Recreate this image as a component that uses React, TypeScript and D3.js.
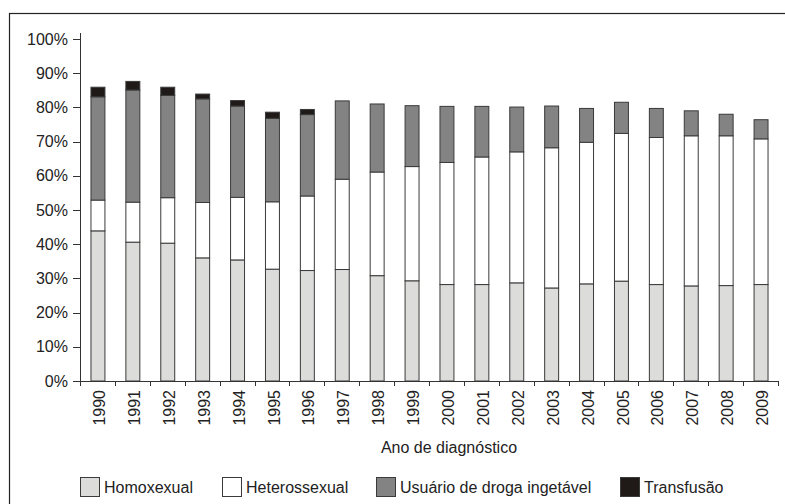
import React from 'react';
import * as d3 from 'd3';

// Anos de diagnóstico
const years = [
  '1990', '1991', '1992', '1993', '1994', '1995', '1996', '1997', '1998', '1999',
  '2000', '2001', '2002', '2003', '2004', '2005', '2006', '2007', '2008', '2009',
];

// Share of cases per exposure category (%)
const homoxexual = [43.9, 40.6, 40.3, 36.0, 35.4, 32.7, 32.3, 32.6, 30.8, 29.3, 28.2, 28.2, 28.7, 27.2, 28.4, 29.2, 28.2, 27.8, 27.9, 28.2];
const heterossexual = [9.0, 11.7, 13.3, 16.2, 18.3, 19.7, 21.8, 26.4, 30.3, 33.4, 35.7, 37.3, 38.3, 41.0, 41.4, 43.2, 43.0, 43.9, 43.8, 42.6];
const usuarioDroga = [30.2, 32.8, 29.9, 30.3, 26.7, 24.4, 23.8, 22.9, 19.9, 17.8, 16.4, 14.8, 13.1, 12.2, 9.9, 9.1, 8.5, 7.3, 6.3, 5.6];
const transfusao = [2.8, 2.5, 2.4, 1.4, 1.6, 1.8, 1.5, 0, 0, 0, 0, 0, 0, 0, 0, 0, 0, 0, 0, 0];

const yTicks = [0, 10, 20, 30, 40, 50, 60, 70, 80, 90, 100];

const seriesKeys = ['Homoxexual', 'Heterossexual', 'Usuário de droga ingetável', 'Transfusão'];
const colors = ['#dcdcda', '#ffffff', '#838383', '#1f1a17'];

const width = 785;
const height = 504;
const font = '"Liberation Sans", Arial, sans-serif';

const App = () => {
  // build table for d3.stack
  const table = years.map((y, i) => ({
    year: y,
    [seriesKeys[0]]: homoxexual[i],
    [seriesKeys[1]]: heterossexual[i],
    [seriesKeys[2]]: usuarioDroga[i],
    [seriesKeys[3]]: transfusao[i],
  }));
  const stacked = d3.stack<any>().keys(seriesKeys)(table);

  const x = d3.scaleBand().domain(years).range([80, 778]).paddingInner(0.6).paddingOuter(0.3);
  const y = d3.scaleLinear().domain([0, 100]).range([381, 39]);
  const step = x.step();

  // x tick positions sit between categories
  const xTicks = [80, ...years.map((yr) => (x(yr) as number) + x.bandwidth() / 2 + step / 2)];

  // legend layout
  const legendX = [80, 222, 376, 620];

  return (
    <svg width={width} height={height} style={{ position: 'absolute', left: 0, top: 0 }} fontFamily={font}>
      <rect x={0} y={0} width={width} height={height} fill="#fff" />
      {/* frame */}
      <rect x={9.5} y={13.5} width={800} height={600} fill="none" stroke="#222" strokeWidth={1.2} />

      {/* bars */}
      {stacked.map((s, si) => (
        <g key={s.key} fill={colors[si]} stroke="#3a3a3a" strokeWidth={1}>
          {s.map((d, i) =>
            d[1] - d[0] > 0 ? (
              <rect
                key={i}
                x={(x(years[i]) as number) + 0.5}
                y={y(d[1])}
                width={x.bandwidth()}
                height={y(d[0]) - y(d[1])}
              />
            ) : null
          )}
        </g>
      ))}

      {/* y axis */}
      <line x1={80.5} x2={80.5} y1={33} y2={386} stroke="#333" />
      {yTicks.map((t) => (
        <g key={t}>
          <line x1={73} x2={80.5} y1={Math.round(y(t)) + 0.5} y2={Math.round(y(t)) + 0.5} stroke="#333" />
          <text x={68} y={y(t)} dy="0.35em" textAnchor="end" fontSize={16} fill="#222">
            {t}%
          </text>
        </g>
      ))}

      {/* x axis */}
      <line x1={80} x2={778} y1={381.5} y2={381.5} stroke="#333" />
      {xTicks.map((t, i) => (
        <line key={i} x1={Math.round(t) + 0.5} x2={Math.round(t) + 0.5} y1={381} y2={386} stroke="#333" />
      ))}
      {years.map((yr) => (
        <text
          key={yr}
          transform={`translate(${(x(yr) as number) + x.bandwidth() / 2 + 2},390) rotate(-90)`}
          dy="0.35em"
          textAnchor="end"
          fontSize={16}
          fill="#222"
        >
          {yr}
        </text>
      ))}
      <text x={449} y={453} textAnchor="middle" fontSize={16} fill="#222">
        Ano de diagnóstico
      </text>

      {/* legend */}
      {seriesKeys.map((k, i) => (
        <g key={k}>
          <rect x={legendX[i] + 0.5} y={477.5} width={19} height={19} fill={colors[i]} stroke="#3a3a3a" />
          <text x={legendX[i] + 24} y={493} fontSize={16} fill="#222">
            {k}
          </text>
        </g>
      ))}
    </svg>
  );
};

export default App;
